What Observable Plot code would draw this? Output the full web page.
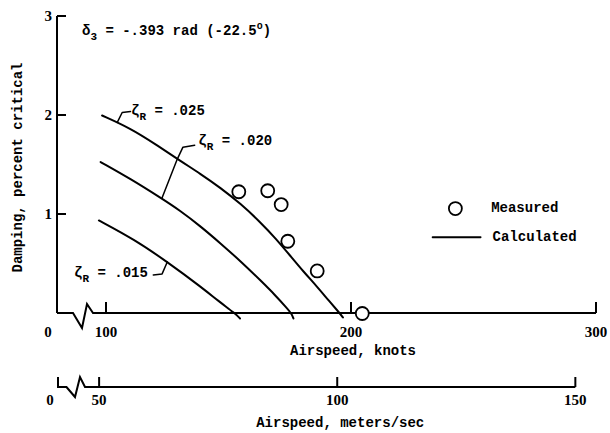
<!DOCTYPE html>
<html>
<head>
<meta charset="utf-8">
<script src="https://cdn.jsdelivr.net/npm/d3@7"></script>
<script src="https://cdn.jsdelivr.net/npm/@observablehq/plot@0.6"></script>
<style>body{margin:0;background:#fff}</style>
</head>
<body>
<div id="chart"></div>
<script>
// ---- data (airspeed in knots, damping in percent critical) ----
const knotTicks = [100, 200, 300];
const mpsTicks = [50, 100, 150];
const dampingTicks = [1, 2, 3];
const KNOTS_PER_MPS = 1.9438;

const calc025 = [[98.2,2.0],[109.8,1.87],[120,1.71],[130.2,1.54],[138.4,1.41],[146.5,1.27],[154.7,1.11],[162.9,0.92],[169,0.76],[175.1,0.58],[180.5,0.42],[186,0.27],[190.7,0.13],[195.3,0],[196.5,-0.04]];
const calc020 = [[97.6,1.53],[109.8,1.36],[122,1.17],[130,1.04],[138.4,0.88],[146,0.72],[156,0.50],[163,0.33],[168.7,0.19],[173.8,0.05],[175.5,0],[176.3,-0.05]];
const calc015 = [[96.9,0.94],[111.2,0.75],[124.9,0.52],[138.5,0.27],[146,0.12],[152.5,0],[154.5,-0.05]];
const measured = [[154.0,1.23],[165.8,1.24],[171.3,1.10],[174.0,0.73],[186.0,0.43],[204.4,0]];

const curveLabels = [
  {z: ".025", k: 110.2, d: 2.0, anchor: "start"},
  {z: ".020", k: 137.7, d: 1.70, anchor: "start"},
  {z: ".015", k: 117.1, d: 0.36, anchor: "end"}
];
const leader025 = [[104.4,1.93],[106.4,2.03],[109.8,2.04]];
const leader020 = [[122.7,1.17],[128.9,1.56],[131.2,1.68],[136,1.70]];
const leader015 = [[119.1,0.39],[122.7,0.40],[124.8,0.52]];

const legendPoint = [[242.4,1.06]];
const legendLine = [[233.1,0.77],[252.7,0.77]];
const legendItems = [{k: 257, d: 1.07, t: "Measured"}, {k: 257.6, d: 0.78, t: "Calculated"}];
const annotation = {k: 90.2, d: 2.81};

const MONO = "'Liberation Mono', 'DejaVu Sans Mono', monospace";
const SERIF = "'Liberation Serif', 'DejaVu Serif', serif";
const px = d => d[0], py = d => d[1];

const plot = Plot.plot({
  width: 610, height: 433,
  marginLeft: 57, marginRight: 14, marginTop: 16, marginBottom: 120,
  x: {domain: [80, 300], axis: null},
  y: {domain: [0, 3], axis: null},
  marks: [
    Plot.line(calc025, {x: px, y: py, stroke: "black", strokeWidth: 2, curve: "basis"}),
    Plot.line(calc020, {x: px, y: py, stroke: "black", strokeWidth: 2, curve: "basis"}),
    Plot.line(calc015, {x: px, y: py, stroke: "black", strokeWidth: 2, curve: "basis"}),
    Plot.line(leader025, {x: px, y: py, stroke: "black", strokeWidth: 1.5}),
    Plot.line(leader020, {x: px, y: py, stroke: "black", strokeWidth: 1.5}),
    Plot.line(leader015, {x: px, y: py, stroke: "black", strokeWidth: 1.5}),
    Plot.dot(measured, {x: px, y: py, r: 6.5, stroke: "black", strokeWidth: 1.8, fill: "white"}),
    Plot.dot(legendPoint, {x: px, y: py, r: 6.5, stroke: "black", strokeWidth: 1.8, fill: "white"}),
    Plot.line(legendLine, {x: px, y: py, stroke: "black", strokeWidth: 1.8}),
    Plot.text(legendItems, {x: "k", y: "d", text: "t", textAnchor: "start", fontFamily: MONO, fontWeight: "bold", fontSize: 14, fill: "black"})
  ]
});

const svg = d3.select(plot);
const sx = plot.scale("x"), sy = plot.scale("y");
const X = v => sx.apply(v), Y = v => sy.apply(v);
const x0 = X(80), y0 = Y(0), xEnd = X(300), yTop = Y(3);
const yM = y0 + 74;

// axes drawn beneath marks
const axes = svg.insert("g", ":first-child")
  .attr("fill", "none").attr("stroke", "black").attr("stroke-width", 2)
  .attr("stroke-linejoin", "miter");
axes.append("path").attr("d", `M${x0},${yTop}V${y0}`);
dampingTicks.forEach(t => axes.append("path").attr("d", `M${x0},${Y(t)}h9`));
axes.append("path").attr("d", `M${x0},${y0}H${x0+16}L${x0+25},${y0+15}L${x0+30},${y0-9}L${x0+36},${y0}H${xEnd}`);
knotTicks.forEach(t => axes.append("path").attr("d", `M${X(t)},${y0}v-11`));
const mEnd = X(150 * KNOTS_PER_MPS);
axes.append("path").attr("d", `M${x0+1},${yM-10}V${yM}H${x0+9.5}L${x0+18},${yM+10}L${x0+23},${yM-10}L${x0+28},${yM}H${mEnd}`);
mpsTicks.forEach(t => axes.append("path").attr("d", `M${X(t*KNOTS_PER_MPS)},${yM}v-10`));

// tick labels
const lab = svg.append("g").attr("fill", "black").attr("font-family", SERIF)
  .attr("font-weight", "bold").attr("font-size", 15);
dampingTicks.forEach(t => lab.append("text").attr("x", x0 - 5).attr("y", Y(t) + 5).attr("text-anchor", "end").text(t));
lab.append("text").attr("x", x0 - 9).attr("y", y0 + 24).attr("text-anchor", "middle").text("0");
knotTicks.forEach(t => lab.append("text").attr("x", X(t)).attr("y", y0 + 24).attr("text-anchor", "middle").text(t));
lab.append("text").attr("x", x0 - 7).attr("y", yM + 17.5).attr("text-anchor", "middle").text("0");
mpsTicks.forEach(t => lab.append("text").attr("x", X(t*KNOTS_PER_MPS)).attr("y", yM + 17.5).attr("text-anchor", "middle").text(t));

// titles
const tt = svg.append("g").attr("fill", "black").attr("font-family", MONO)
  .attr("font-weight", "bold").attr("font-size", 14);
tt.append("text").attr("x", X(200) + 2).attr("y", y0 + 42).attr("text-anchor", "middle").text("Airspeed, knots");
tt.append("text").attr("x", X(100*KNOTS_PER_MPS) + 3).attr("y", yM + 39.5).attr("text-anchor", "middle").text("Airspeed, meters/sec");
tt.append("text").attr("transform", `translate(22,${(yTop + y0) / 2 + 3}) rotate(-90)`).attr("text-anchor", "middle").text("Damping, percent critical");

function rich(x, y, anchor, parts) {
  const t = tt.append("text").attr("x", x).attr("y", y).attr("text-anchor", anchor);
  let shift = 0;
  parts.forEach(p => {
    const want = p.sub ? 5 : p.sup ? -6 : 0;
    const s = t.append("tspan").attr("dy", want - shift).text(p.s);
    if (p.sub || p.sup) s.attr("font-size", p.sub ? 11 : 10);
    shift = want;
  });
}
rich(X(annotation.k), Y(annotation.d), "start",
  [{s: "δ"}, {s: "3", sub: true}, {s: " = -.393 rad (-22.5"}, {s: "o", sup: true}, {s: ")"}]);
curveLabels.forEach(c => rich(X(c.k), Y(c.d), c.anchor,
  [{s: "ζ"}, {s: "R", sub: true}, {s: " = " + c.z}]));

document.getElementById("chart").appendChild(plot);
</script>
</body>
</html>
